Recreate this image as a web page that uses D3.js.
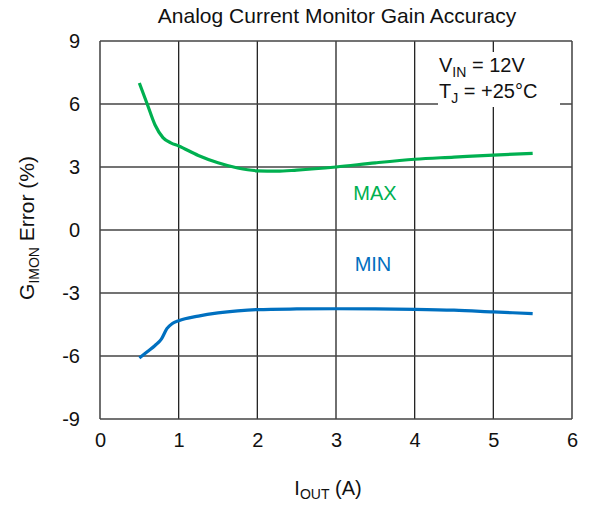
<!DOCTYPE html>
<html>
<head>
<meta charset="utf-8">
<script src="https://cdn.jsdelivr.net/npm/d3@7"></script>
<style>
body{margin:0;background:#fff;}
text{font-family:"Liberation Sans",Arial,sans-serif;fill:#111;}
</style>
</head>
<body>
<script>
//current values along the curves (A)
var maxX=[0.5,0.6,0.7,0.8,0.9,1.0,1.25,1.5,1.75,2.0,2.25,2.5,3.0,3.5,4.0,4.5,5.0,5.5];
var maxY=[7.0,6.0,5.0,4.4,4.15,4.0,3.55,3.2,2.95,2.82,2.8,2.85,3.0,3.2,3.37,3.47,3.57,3.65];
var minX=[0.5,0.6,0.7,0.78,0.85,0.92,1.0,1.25,1.5,1.75,2.0,2.5,3.0,3.5,4.0,4.5,5.0,5.5];
var minY=[-6.1,-5.8,-5.5,-5.2,-4.7,-4.45,-4.32,-4.1,-3.95,-3.85,-3.79,-3.76,-3.75,-3.76,-3.78,-3.82,-3.9,-3.98];
var xTicks=[0,1,2,3,4,5,6];
var yTicks=[-9,-6,-3,0,3,6,9];

var w=589,h=505;
var svg=d3.select("body").append("svg")
	.attr("width",w)
	.attr("height",h);

var x=d3.scaleLinear().domain([0,6]).range([100,572]);
var y=d3.scaleLinear().domain([-9,9]).range([419,41]);

//grid
svg.selectAll(".vgrid").data(xTicks).enter().append("line")
	.attr("x1",function(d){return x(d);})
	.attr("x2",function(d){return x(d);})
	.attr("y1",y(9)).attr("y2",y(-9))
	.style("stroke","#222").style("stroke-width",1.3);
svg.selectAll(".hgrid").data(yTicks).enter().append("line")
	.attr("y1",function(d){return y(d);})
	.attr("y2",function(d){return y(d);})
	.attr("x1",x(0)).attr("x2",x(6))
	.style("stroke","#444").style("stroke-width",1.3);

//tick labels via d3 axes, no domain/tick lines
var fmt=function(d){return String(d);};
svg.append("g")
	.attr("transform","translate(0,"+y(-9)+")")
	.call(d3.axisBottom(x).tickValues(xTicks).tickFormat(fmt).tickSize(0).tickPadding(14));
svg.append("g")
	.attr("transform","translate("+x(0)+",0)")
	.call(d3.axisLeft(y).tickValues(yTicks).tickFormat(fmt).tickSize(0).tickPadding(20));
svg.selectAll(".domain").remove();
svg.selectAll(".tick text").style("font-size","20px").style("font-family","'Liberation Sans',Arial,sans-serif").attr("fill","#111");

//conditions box
svg.append("rect")
	.attr("x",438).attr("y",52).attr("width",122).attr("height",55)
	.style("fill","#fff");
var c1=svg.append("text").attr("x",439).attr("y",72).style("font-size","20px");
c1.append("tspan").text("V");
c1.append("tspan").attr("dy",5).style("font-size","14px").text("IN");
c1.append("tspan").attr("dy",-5).text(" = 12V");
var c2=svg.append("text").attr("x",439).attr("y",98).style("font-size","20px");
c2.append("tspan").text("T");
c2.append("tspan").attr("dy",5).style("font-size","14px").text("J");
c2.append("tspan").attr("dy",-5).text(" = +25°C");

//curves
var line=d3.line().curve(d3.curveMonotoneX)
	.x(function(d){return x(d[0]);})
	.y(function(d){return y(d[1]);});
svg.append("path")
	.datum(d3.zip(maxX,maxY))
	.attr("d",line)
	.style("fill","none").style("stroke","#00b050").style("stroke-width",3.2);
svg.append("path")
	.datum(d3.zip(minX,minY))
	.attr("d",line)
	.style("fill","none").style("stroke","#0070c0").style("stroke-width",3.2);

svg.append("text").attr("x",375).attr("y",200).attr("text-anchor","middle")
	.style("font-size","20px").style("fill","#00b050").text("MAX");
svg.append("text").attr("x",373).attr("y",271).attr("text-anchor","middle")
	.style("font-size","20px").style("fill","#0070c0").text("MIN");

//title
svg.append("text").attr("x",337).attr("y",23).attr("text-anchor","middle")
	.style("font-size","21px").text("Analog Current Monitor Gain Accuracy");

//x label
var xl=svg.append("text").attr("x",328).attr("y",495).attr("text-anchor","middle").style("font-size","20px");
xl.append("tspan").text("I");
xl.append("tspan").attr("dy",4).style("font-size","14px").text("OUT");
xl.append("tspan").attr("dy",-4).text(" (A)");

//y label
var yl=svg.append("text").attr("transform","translate(34,228) rotate(-90)")
	.attr("text-anchor","middle").style("font-size","21px");
yl.append("tspan").text("G");
yl.append("tspan").attr("dy",5).style("font-size","14px").text("IMON");
yl.append("tspan").attr("dy",-5).text(" Error (%)");
</script>
</body>
</html>
